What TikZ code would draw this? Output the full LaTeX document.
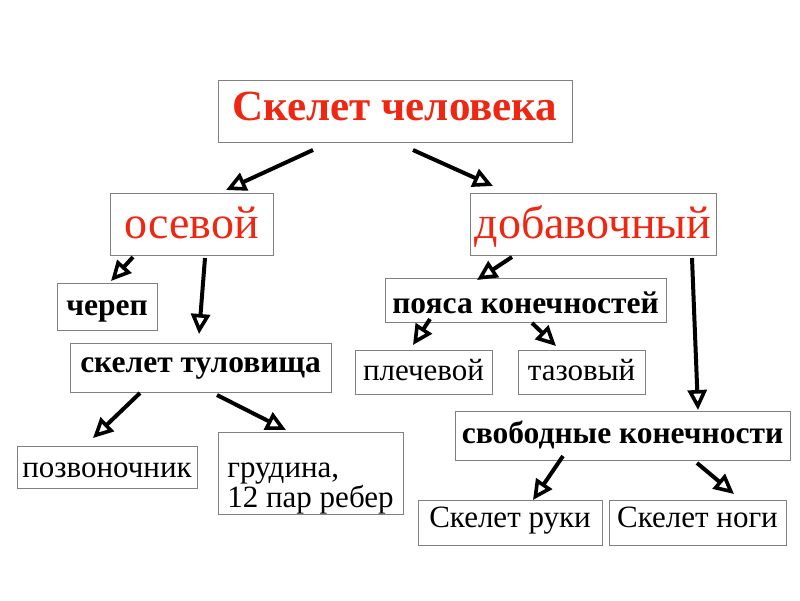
\documentclass[tikz,border=0pt]{standalone}
\usepackage{fontspec}
\setmainfont{Liberation Serif}
\usetikzlibrary{arrows.meta}
\definecolor{skred}{RGB}{238,38,18}
\begin{document}
\begin{tikzpicture}[x=1pt, y=-1pt,
    box/.style={draw=gray, line width=0.9pt, rectangle, inner sep=0pt},
    big/.style={font=\fontsize{43}{47}\selectfont\bfseries, text=skred, text height=28pt, text depth=10pt},
    mid/.style={font=\fontsize{46}{50}\selectfont, text=skred, text height=34pt, text depth=6pt},
    bld/.style={font=\fontsize{31.5}{34}\selectfont\bfseries, text height=22pt, text depth=6pt},
    reg/.style={font=\fontsize{31}{30}\selectfont, text height=22pt, text depth=6pt}, 
    arr/.style={line width=4pt, -{Triangle[open, length=20pt, width=19pt, line width=3.6pt]}}]
        \useasboundingbox[fill=white] (0,0) rectangle (800,600);
        \node[box, big, minimum width=354pt, minimum height=62pt] (skel) at (395,111) {Скелет человека};
        \node[box, mid, minimum width=163pt, minimum height=62pt] (osev) at (191.5,224) {осевой};
        \node[box, mid, minimum width=246pt, minimum height=62pt] (dobav) at (593,224) {добавочный};
        \node[box, bld, minimum width=100pt, minimum height=47pt, text depth=5pt] (cherep) at (107,306.5) {череп};
        \node[box, bld, minimum width=261pt, minimum height=49pt, text depth=13pt] (tulov) at (200.5,367.5) {скелет туловища};
        \node[box, bld, minimum width=281pt, minimum height=44pt, text height=30pt, text depth=4pt] (poyasa) at (525.5,300) {пояса конечностей};
        \node[box, reg, minimum width=137pt, minimum height=44pt] (plech) at (423.5,372) {плечевой};
        \node[box, reg, minimum width=127pt, minimum height=44pt] (taz) at (581.5,372) {тазовый};
        \node[box, reg, minimum width=180pt, minimum height=42pt, text height=24pt, text depth=4pt] (pozv) at (107,467) {позвоночник};
        \node[box, reg, minimum width=185pt, minimum height=82pt, align=left, text height=74pt, text depth=6pt] (grud) at (310.5,473) {грудина,\\12 пар ребер};
        \node[box, bld, minimum width=335pt, minimum height=49pt, text depth=7pt] (svob) at (622.5,435.5) {свободные конечности};
        \node[box, reg, minimum width=184pt, minimum height=45pt, text depth=13pt] (ruka) at (510,522.5) {Скелет руки};
        \node[box, reg, minimum width=177pt, minimum height=45pt, text depth=13pt] (noga) at (697.5,522.5) {Скелет ноги};
        % arrow ends
        \coordinate (s1) at (313,150);  \coordinate (e1) at (226,190);
        \coordinate (s2) at (413,150);  \coordinate (e2) at (493,186);
        \coordinate (s3) at (133,257);  \coordinate (e3) at (111,281);
        \coordinate (s4) at (205,258);  \coordinate (e4) at (199,334);
        \coordinate (s5) at (512,257);  \coordinate (e5) at (477,280);
        \coordinate (s6) at (692,258);  \coordinate (e6) at (698,410);
        \coordinate (s7) at (430,319);  \coordinate (e7) at (413,345);
        \coordinate (s8) at (532,323);  \coordinate (e8) at (556,346);
        \coordinate (s9) at (140,393);  \coordinate (e9) at (93,438);
        \coordinate (s10) at (217,395); \coordinate (e10) at (286,430);
        \coordinate (s11) at (563,456); \coordinate (e11) at (533,500);
        \coordinate (s12) at (697,463); \coordinate (e12) at (734,494);
        \foreach \i in {1,...,12}
            \draw[arr] (s\i) -- (e\i);
    \end{tikzpicture}
\end{document}
